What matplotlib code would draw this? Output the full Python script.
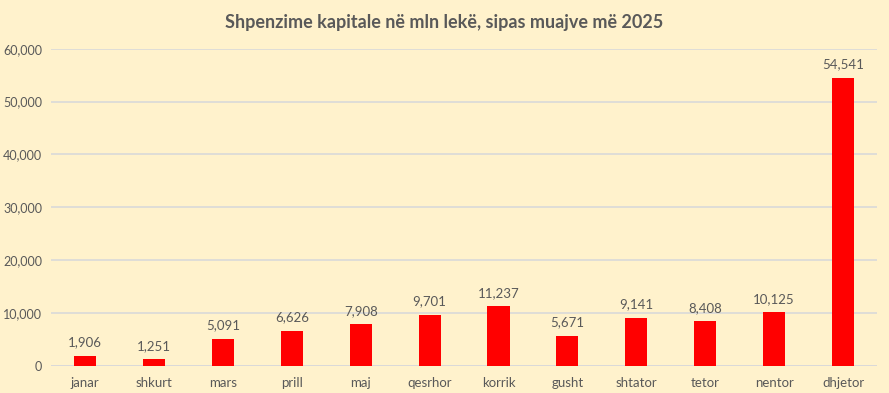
import matplotlib
matplotlib.use("Agg")
import matplotlib.pyplot as plt
from matplotlib.ticker import FuncFormatter

months = ["janar", "shkurt", "mars", "prill", "maj", "qesrhor", "korrik",
          "gusht", "shtator", "tetor", "nentor", "dhjetor"]
values = [1906, 1251, 5091, 6626, 7908, 9701, 11237, 5671, 9141, 8408, 10125, 54541]

bg = "#FFF2CC"
text_color = "#595959"

plt.rcParams["font.family"] = ["Lato", "DejaVu Sans"]

fig = plt.figure(figsize=(8.89, 3.93), dpi=100, facecolor=bg)
ax = fig.add_axes([0.057, 0.069, 0.930, 0.807], facecolor=bg)

x = range(len(months))
ax.bar(x, values, width=0.32, color="#FF0000", zorder=3)

for i, v in enumerate(values):
    ax.text(i, v + 1400, f"{v:,}", ha="center", va="bottom",
            fontsize=9.5, color=text_color)

ax.set_ylim(0, 60000)
ax.set_xlim(-0.5, len(months) - 0.5)
ax.set_yticks(range(0, 60001, 10000))
ax.yaxis.set_major_formatter(FuncFormatter(lambda v, p: f"{int(v):,}"))
ax.set_xticks(list(x))
ax.set_xticklabels(months)
ax.tick_params(axis="both", length=0, labelsize=9, colors=text_color)
ax.tick_params(axis="x", pad=8, labelsize=9.5)
ax.tick_params(axis="y", pad=6)
ax.grid(axis="y", color="#D9D9D9", linewidth=1.2, zorder=0)
for s in ax.spines.values():
    s.set_visible(False)
ax.axhline(0, color="#D9D9D9", linewidth=1.2, zorder=1)

fig.text(0.5, 0.944, "Shpenzime kapitale në mln lekë, sipas muajve më 2025",
         ha="center", va="center", fontsize=13, fontweight="bold", color=text_color)

fig.savefig("out.png", dpi=100, facecolor=bg)
